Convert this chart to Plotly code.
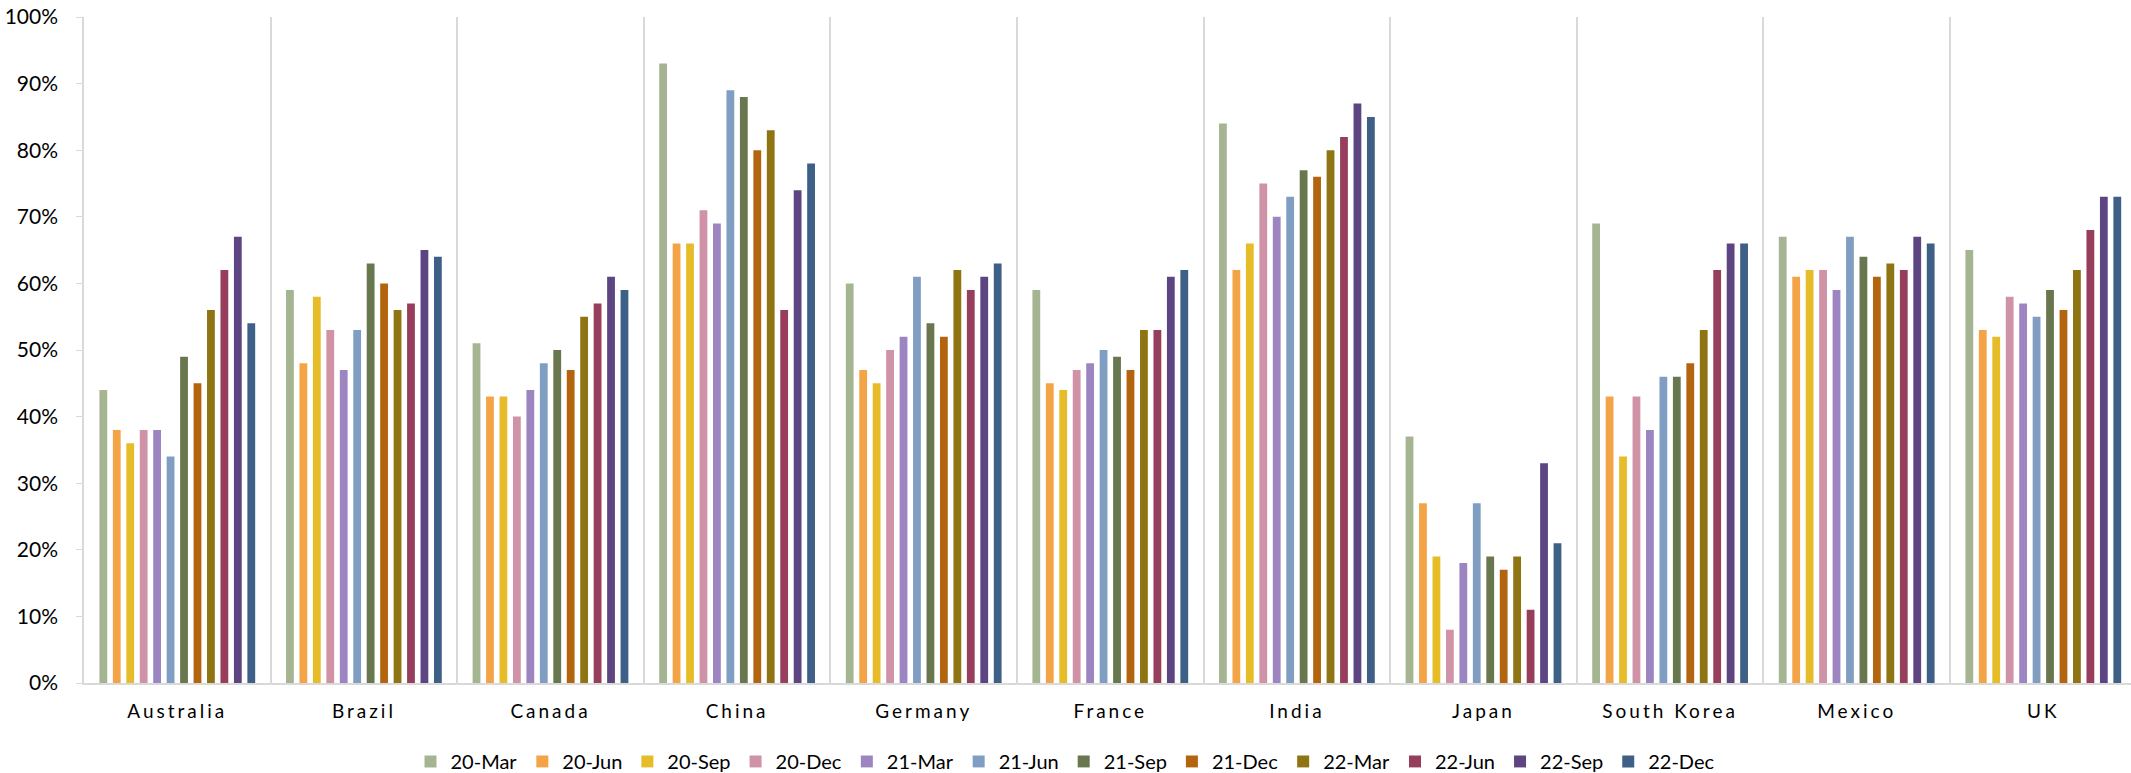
import plotly.graph_objects as go

# Countries along the x axis
countries = ["Australia", "Brazil", "Canada", "China", "Germany", "France",
             "India", "Japan", "South Korea", "Mexico", "UK"]

# Survey waves (one bar series each), values in percent
wave_20_mar = [44, 59, 51, 93, 60, 59, 84, 37, 69, 67, 65]
wave_20_jun = [38, 48, 43, 66, 47, 45, 62, 27, 43, 61, 53]
wave_20_sep = [36, 58, 43, 66, 45, 44, 66, 19, 34, 62, 52]
wave_20_dec = [38, 53, 40, 71, 50, 47, 75, 8, 43, 62, 58]
wave_21_mar = [38, 47, 44, 69, 52, 48, 70, 18, 38, 59, 57]
wave_21_jun = [34, 53, 48, 89, 61, 50, 73, 27, 46, 67, 55]
wave_21_sep = [49, 63, 50, 88, 54, 49, 77, 19, 46, 64, 59]
wave_21_dec = [45, 60, 47, 80, 52, 47, 76, 17, 48, 61, 56]
wave_22_mar = [56, 56, 55, 83, 62, 53, 80, 19, 53, 63, 62]
wave_22_jun = [62, 57, 57, 56, 59, 53, 82, 11, 62, 62, 68]
wave_22_sep = [67, 65, 61, 74, 61, 61, 87, 33, 66, 67, 73]
wave_22_dec = [54, 64, 59, 78, 63, 62, 85, 21, 66, 66, 73]

series_names = ["20-Mar", "20-Jun", "20-Sep", "20-Dec", "21-Mar", "21-Jun",
                "21-Sep", "21-Dec", "22-Mar", "22-Jun", "22-Sep", "22-Dec"]
series_values = [wave_20_mar, wave_20_jun, wave_20_sep, wave_20_dec,
                 wave_21_mar, wave_21_jun, wave_21_sep, wave_21_dec,
                 wave_22_mar, wave_22_jun, wave_22_sep, wave_22_dec]
series_colors = ["#A5B592", "#F3A447", "#E7BC29", "#D092A7", "#9C85C0", "#809EC2",
                 "#68774E", "#B3640F", "#8F7414", "#963E5B", "#5C4580", "#3E5F86"]

FONT = "Lato, 'Gill Sans MT', 'Noto Sans', sans-serif"
GRID = "#D9D9D9"

fig = go.Figure()
for name, vals, col in zip(series_names, series_values, series_colors):
    fig.add_trace(go.Bar(
        name=name,
        x=countries,
        y=[v / 100 for v in vals],
        marker=dict(color=col, line=dict(width=0)),
    ))

fig.update_layout(
    width=2131,
    height=773,
    margin=dict(l=84, r=0, t=17, b=90),
    paper_bgcolor="white",
    plot_bgcolor="white",
    barmode="group",
    bargap=0.135,
    bargroupgap=0.42,
    font=dict(family=FONT, size=20, color="#000000"),
    legend=dict(
        orientation="h",
        xref="container", yref="container",
        x=0.5, xanchor="center",
        y=0.015, yanchor="middle",
        font=dict(size=20, color="#000000"),
        itemsizing="constant",
        tracegroupgap=0,
    ),
    showlegend=True,
)

fig.update_xaxes(
    type="category",
    range=[-0.5, 10.47],
    tickson="boundaries",
    showgrid=True,
    gridcolor=GRID,
    gridwidth=1.5,
    showline=True,
    linecolor=GRID,
    linewidth=2,
    ticks="",
    ticklabelstandoff=10,
    tickfont=dict(size=19, color="#000000"),
)

fig.update_yaxes(
    range=[0, 1],
    dtick=0.1,
    tickformat=".0%",
    showgrid=False,
    zeroline=False,
    showline=True,
    linecolor=GRID,
    linewidth=1.5,
    ticks="outside",
    ticklen=6,
    tickcolor=GRID,
    ticklabelstandoff=14,
    tickfont=dict(size=21, color="#000000"),
)

# widen the spacing of the country labels
letter_spacing_js = """
document.querySelectorAll('.xtick text').forEach(function(t){
    t.style.letterSpacing = '3px';
});
"""

fig.write_html("out.html", post_script=letter_spacing_js)
